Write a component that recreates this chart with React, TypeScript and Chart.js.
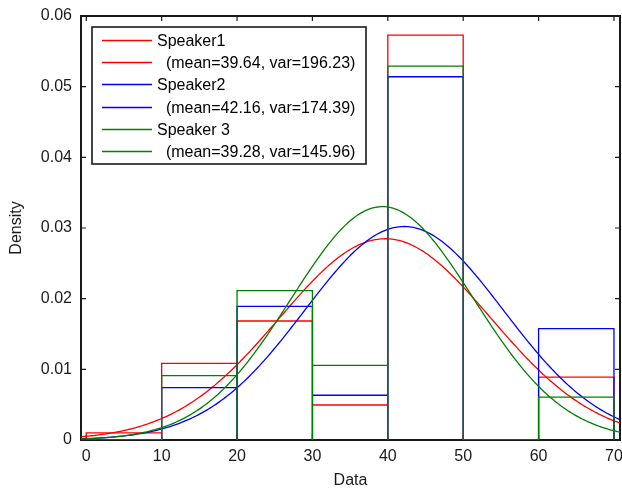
import React, { useEffect, useRef } from "react";
import { Chart, registerables } from "chart.js";

Chart.register(...registerables);

// ---- data ----
const binEdges = [0, 10, 20, 30, 40, 50, 60, 70];
const speakerNames = ["Speaker1", "Speaker2", "Speaker 3"];
const speaker1Density = [0.001, 0.01085, 0.01684, 0.00495, 0.0573, 0, 0.00891];
const speaker2Density = [0, 0.0074, 0.01892, 0.00633, 0.0514, 0, 0.01575];
const speaker3Density = [0, 0.0091, 0.02113, 0.01057, 0.0529, 0, 0.00608];
const speakerMeans = [39.64, 42.16, 39.28];
const speakerVariances = [196.23, 174.39, 145.96];
const xTickValues = [0, 10, 20, 30, 40, 50, 60, 70];
const yTickValues = [0, 0.01, 0.02, 0.03, 0.04, 0.05, 0.06];

const X_MIN = -0.7;
const X_MAX = 70.8;
const Y_MIN = 0;
const Y_MAX = 0.06;

const COLORS = ["#ff0000", "#0000ff", "#008000"];
const FONT_FAMILY = "'Liberation Sans', Arial, Helvetica, sans-serif";
const TEXT_COLOR = "#1a1a1a";

function histOutline(edges: number[], dens: number[]) {
  const pts: { x: number; y: number }[] = [];
  for (let i = 0; i < dens.length; i++) {
    pts.push({ x: edges[i], y: 0 });
    pts.push({ x: edges[i], y: dens[i] });
    pts.push({ x: edges[i + 1], y: dens[i] });
    pts.push({ x: edges[i + 1], y: 0 });
  }
  return pts;
}

// fitted normal density defined by the mean / variance shown in the legend
function normalCurve(mean: number, variance: number) {
  const sd = Math.sqrt(variance);
  const pts: { x: number; y: number }[] = [];
  const n = 300;
  for (let i = 0; i <= n; i++) {
    const x = X_MIN + ((X_MAX - X_MIN) * i) / n;
    const z = (x - mean) / sd;
    pts.push({ x, y: Math.exp(-0.5 * z * z) / (sd * Math.sqrt(2 * Math.PI)) });
  }
  return pts;
}

const framePlugin = {
  id: "matlabFrame",
  beforeDatasetsDraw(chart: any) {
    const { ctx, chartArea } = chart;
    const { left, right, top, bottom } = chartArea;
    const xs = chart.scales.x;
    const ys = chart.scales.y;
    ctx.save();
    ctx.strokeStyle = TEXT_COLOR;
    ctx.lineWidth = 2;
    ctx.strokeRect(left, top, right - left, bottom - top);
    ctx.lineWidth = 1.2;
    const tl = 5;
    ctx.beginPath();
    xTickValues.forEach((v) => {
      const px = xs.getPixelForValue(v);
      ctx.moveTo(px, bottom);
      ctx.lineTo(px, bottom - tl);
      ctx.moveTo(px, top);
      ctx.lineTo(px, top + tl);
    });
    yTickValues.forEach((v) => {
      const py = ys.getPixelForValue(v);
      ctx.moveTo(left, py);
      ctx.lineTo(left + tl, py);
      ctx.moveTo(right, py);
      ctx.lineTo(right - tl, py);
    });
    ctx.stroke();
    ctx.restore();
  },
  afterDraw(chart: any) {
    const { ctx, chartArea } = chart;
    ctx.save();
    ctx.fillStyle = TEXT_COLOR;
    ctx.font = `16px ${FONT_FAMILY}`;
    ctx.textAlign = "center";
    ctx.textBaseline = "middle";
    ctx.fillText("Data", (chartArea.left + chartArea.right) / 2, 481);
    ctx.translate(17, (chartArea.top + chartArea.bottom) / 2);
    ctx.rotate(-Math.PI / 2);
    ctx.fillText("Density", 0, 0);
    ctx.restore();
  },
};

const legendPlugin = {
  id: "boxedLegend",
  afterDraw(chart: any) {
    const { ctx } = chart;
    const ds = chart.data.datasets;
    const boxL = 92;
    const boxT = 27;
    const boxW = 274;
    const boxH = 137;
    ctx.save();
    ctx.fillStyle = "#ffffff";
    ctx.fillRect(boxL, boxT, boxW, boxH);
    ctx.strokeStyle = TEXT_COLOR;
    ctx.lineWidth = 1.6;
    ctx.strokeRect(boxL, boxT, boxW, boxH);
    ctx.font = `16px ${FONT_FAMILY}`;
    ctx.textAlign = "left";
    ctx.textBaseline = "middle";
    ds.forEach((d: any, i: number) => {
      const y = Math.round(40 + i * 22.2) + 0.5;
      ctx.beginPath();
      ctx.strokeStyle = String(d.borderColor);
      ctx.lineWidth = 1.5;
      ctx.moveTo(102, y);
      ctx.lineTo(152, y);
      ctx.stroke();
      ctx.fillStyle = "#000000";
      ctx.fillText(d.label, 157, y + 1);
    });
    ctx.restore();
  },
};

export default function App() {
  const canvasRef = useRef<HTMLCanvasElement | null>(null);

  useEffect(() => {
    document.body.style.margin = "0";
    const canvas = canvasRef.current;
    if (!canvas) return;

    const densities = [speaker1Density, speaker2Density, speaker3Density];
    const datasets: any[] = [];
    densities.forEach((dens, i) => {
      datasets.push({
        label: speakerNames[i],
        data: histOutline(binEdges, dens),
        borderColor: COLORS[i],
        borderWidth: 1.3,
        pointRadius: 0,
        fill: false,
        tension: 0,
        order: 10 - 2 * i,
      });
      datasets.push({
        label: `  (mean=${speakerMeans[i].toFixed(2)}, var=${speakerVariances[i].toFixed(2)})`,
        data: normalCurve(speakerMeans[i], speakerVariances[i]),
        borderColor: COLORS[i],
        borderWidth: 1.3,
        pointRadius: 0,
        fill: false,
        tension: 0,
        order: 9 - 2 * i,
      });
    });

    const tickFont = { family: FONT_FAMILY, size: 16 };

    const chart = new Chart(canvas, {
      type: "line",
      data: { datasets },
      options: {
        responsive: false,
        animation: false,
        layout: { padding: { left: 0, top: 16, right: 2, bottom: 0 } },
        plugins: {
          legend: { display: false },
          tooltip: { enabled: false },
          title: { display: false },
        },
        scales: {
          x: {
            type: "linear",
            min: X_MIN,
            max: X_MAX,
            grid: { display: false, drawTicks: false },
            border: { display: false },
            afterBuildTicks: (s: any) => {
              s.ticks = xTickValues.map((v) => ({ value: v }));
            },
            afterFit: (s: any) => {
              s.height = 50;
              s.paddingLeft = 0;
              s.paddingRight = 0;
            },
            ticks: {
              font: tickFont,
              color: TEXT_COLOR,
              padding: 7,
              maxRotation: 0,
              autoSkip: false,
              callback: (v: any) => String(v),
            },
          },
          y: {
            type: "linear",
            min: Y_MIN,
            max: Y_MAX,
            grid: { display: false, drawTicks: false },
            border: { display: false },
            afterBuildTicks: (s: any) => {
              s.ticks = yTickValues.map((v) => ({ value: v }));
            },
            afterFit: (s: any) => {
              s.width = 81;
              s.paddingTop = 0;
              s.paddingBottom = 0;
            },
            ticks: {
              font: tickFont,
              color: TEXT_COLOR,
              padding: 9,
              autoSkip: false,
              callback: (v: any) => String(v),
            },
          },
        },
      },
      plugins: [framePlugin, legendPlugin],
    } as any);

    return () => {
      chart.destroy();
    };
  }, []);

  return (
    <div style={{ width: 622, height: 490 }}>
      <canvas ref={canvasRef} width={622} height={490} style={{ display: "block" }} />
    </div>
  );
}
